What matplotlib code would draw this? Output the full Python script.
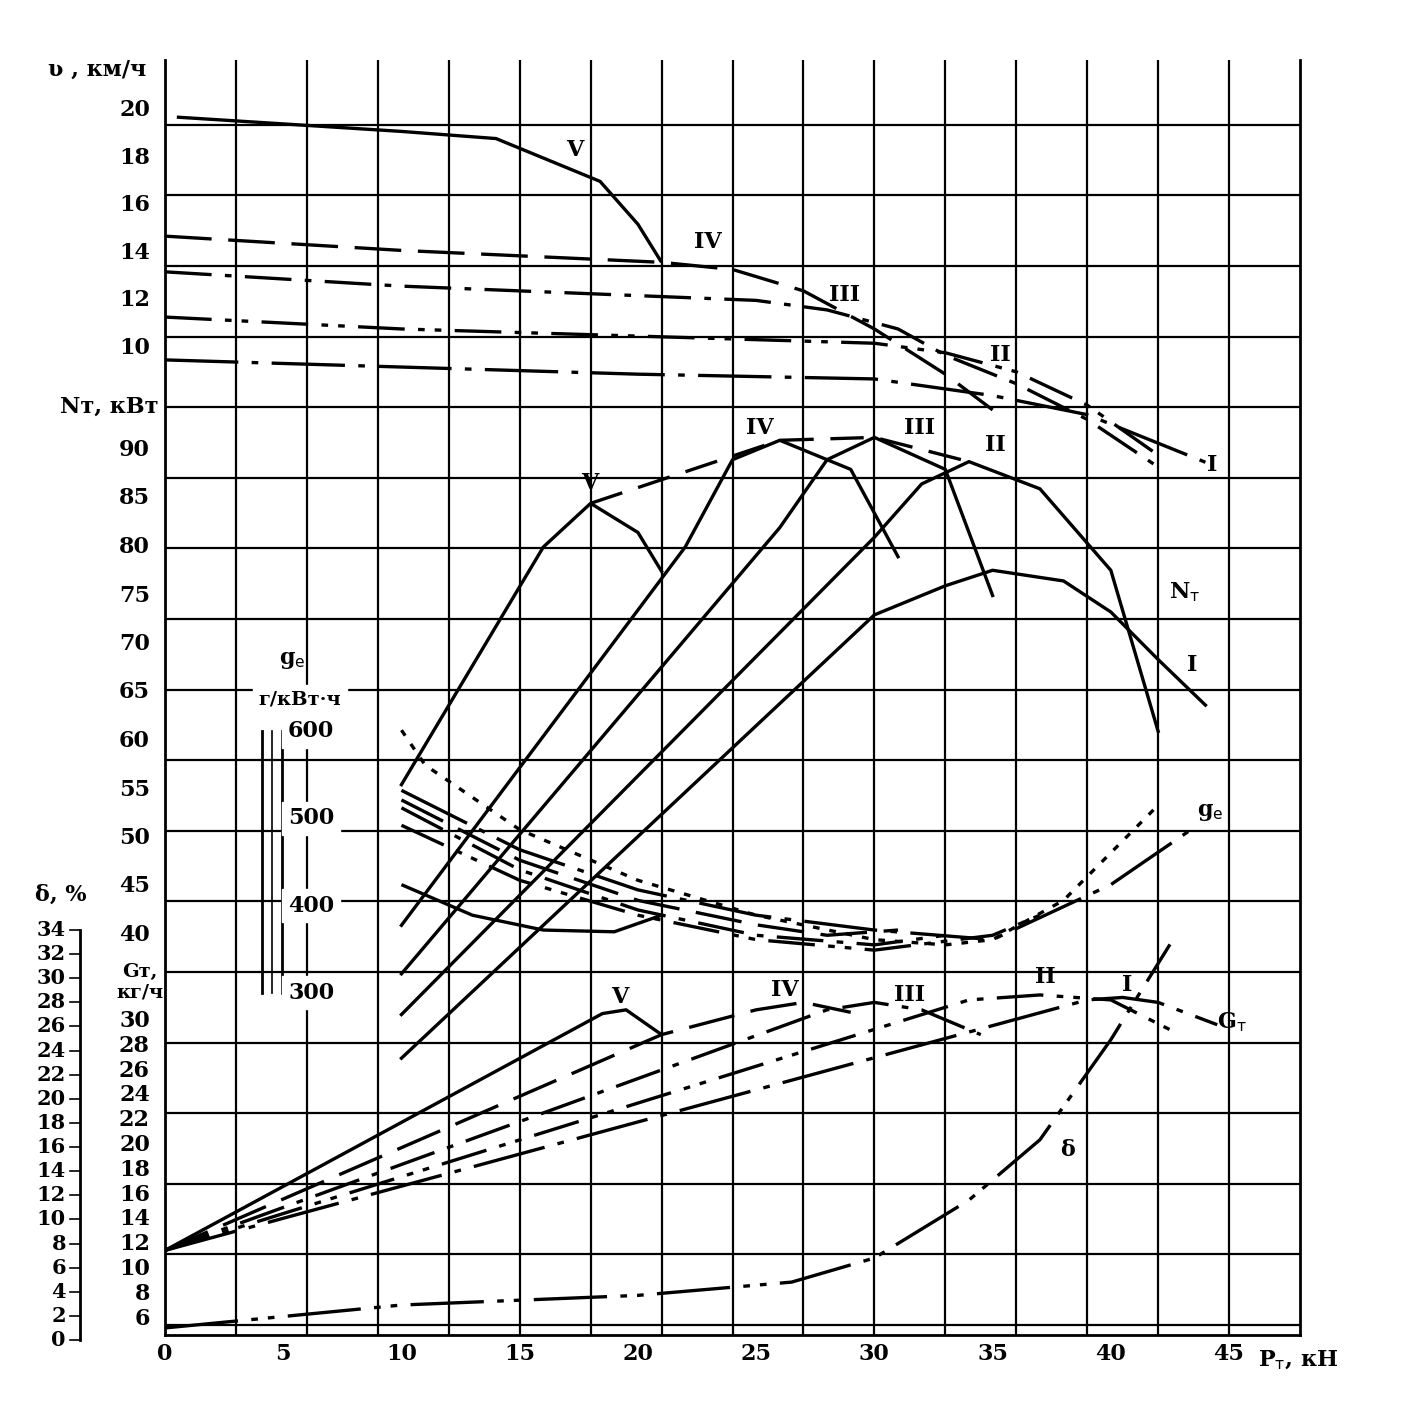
import matplotlib
matplotlib.use("Agg")
import matplotlib.pyplot as plt
import numpy as np

# ---- data (P in kN) ----
gears = ["V", "IV", "III", "II", "I"]
v_P = {"V": [0.5, 10, 14, 18.4, 20, 21], "IV": [0, 10, 21, 24, 27, 30, 33, 35],
       "III": [0, 10, 25, 28, 31, 33, 36, 39, 42], "II": [0, 10, 20, 30, 33, 36, 39, 42],
       "I": [0, 10, 20, 30, 35, 39, 44]}
v_val = {"V": [19.7, 19.1, 18.8, 17.0, 15.2, 13.6], "IV": [14.7, 14.1, 13.6, 13.3, 12.4, 10.8, 8.9, 7.4],
         "III": [13.2, 12.6, 12.0, 11.6, 10.8, 9.7, 8.5, 7.0, 5.0], "II": [11.3, 10.8, 10.5, 10.2, 9.8, 9.0, 7.6, 5.5],
         "I": [9.5, 9.2, 8.9, 8.7, 8.0, 7.2, 5.2]}
N_P = {"V": [10, 16, 18, 20, 21], "IV": [10, 22, 24, 26, 29, 31], "III": [10, 26, 28, 30, 33, 35],
       "II": [10, 30, 32, 34, 37, 40, 42], "I": [10, 30, 33, 35, 38, 40, 42, 44]}
N_val = {"V": [55.5, 80, 84.5, 81.5, 77.5], "IV": [41, 80, 89, 91, 88, 79], "III": [36, 82, 89, 91.3, 88, 75],
         "II": [31.8, 81, 86.5, 88.8, 86, 77.6, 61], "I": [27.3, 73, 76, 77.6, 76.5, 73.3, 68.4, 63.7]}
Nenv_P = [18, 26, 30, 34]
Nenv_val = [84.5, 91, 91.3, 88.8]
ge_P = {"V": [10, 13, 16, 19, 21], "IV": [10, 15, 20, 25, 28, 31], "III": [10, 15, 20, 25, 30, 33],
        "II": [10, 15, 20, 25, 30, 35, 37], "I": [10, 15, 20, 25, 30, 35, 40, 43.5]}
ge_val = {"V": [424, 389, 372, 370, 389], "IV": [521, 452, 406, 378, 366, 372], "III": [512, 441, 395, 366, 355, 366],
          "II": [492, 429, 389, 361, 349, 366, 389], "I": [532, 464, 418, 389, 372, 361, 424, 489]}
ge_env_P = [10, 11, 15, 20, 25, 30, 33, 35, 38, 42]
ge_env_val = [601, 561, 487, 429, 389, 361, 355, 361, 406, 515]
G_P = {"V": [0, 18.5, 19.5, 21], "IV": [0, 21, 25, 27, 29], "III": [0, 28, 30, 32, 34.5],
       "II": [0, 34, 37, 40, 42.5], "I": [0, 39, 40.5, 42, 44.5]}
G_val = {"V": [11.5, 30.6, 30.9, 28.9], "IV": [11.5, 28.9, 30.9, 31.5, 30.7], "III": [11.5, 30.9, 31.5, 30.9, 28.9],
         "II": [11.5, 31.7, 32.1, 31.7, 29.3], "I": [11.5, 31.7, 31.9, 31.5, 29.7]}
d_P = [0, 10, 20, 26.5, 30, 34, 37, 40, 42.5]
d_val = [1.0, 2.9, 3.7, 4.8, 6.8, 11.6, 16.6, 24.9, 32.8]

v_ticks = [10, 12, 14, 16, 18, 20]
N_ticks = [40, 45, 50, 55, 60, 65, 70, 75, 80, 85, 90]
ge_ticks = [300, 400, 500, 600]
G_ticks = list(range(6, 31, 2))
d_ticks = list(range(0, 35, 2))
x_ticks = [0, 5, 10, 15, 20, 25, 30, 35, 40, 45]

# ---- scale mappings (vertical, in figure pixels) ----
yv = lambda v: 348 - (np.asarray(v) - 10) * 23.8
yN = lambda n: 450 + (90 - np.asarray(n)) * 9.7
yg = lambda g: 731 + (600 - np.asarray(g)) * 0.873
yG = lambda g: 1021 + (30 - np.asarray(g)) * 12.4
yd = lambda d: 1340 - np.asarray(d) * 12.06

W = 1414
fig = plt.figure(figsize=(14.14, 14.14), dpi=100)
fig.patch.set_facecolor("white")
L, R, T, B = 165, 1300, 60, 1335
ax = fig.add_axes([L / W, 1 - B / W, (R - L) / W, (B - T) / W])
ax.set_xlim(0, 48)
ax.set_ylim(B, T)
for s in ax.spines.values():
    s.set_linewidth(2)
ax.spines["top"].set_visible(False)
ax.set_yticks([])
ax.set_xticks(x_ticks)
ax.set_xticklabels([str(t) for t in x_ticks], fontsize=16, fontweight="bold", family="DejaVu Serif")
ax.tick_params(axis="x", length=0, pad=6)
for gx in np.arange(3, 48, 3):
    ax.axvline(gx, color="black", lw=1.6, zorder=1)
for gy in np.arange(1325, 50, -70.6):
    ax.axhline(gy, color="black", lw=1.6, zorder=1)

styles = {"V": (0, (10, 0)), "IV": (0, (14, 5)), "III": (0, (14, 4, 2, 4)),
          "II": (0, (14, 4, 2, 3, 2, 4)), "I": (0, (22, 4, 2, 4))}
lw = 2.4
for g in gears:
    ax.plot(v_P[g], yv(v_val[g]), color="black", lw=lw, ls=styles[g], zorder=3)
    ax.plot(N_P[g], yN(N_val[g]), color="black", lw=lw, ls="-", zorder=3)
    ax.plot(ge_P[g], yg(ge_val[g]), color="black", lw=lw, ls=styles[g], zorder=3)
    ax.plot(G_P[g], yG(G_val[g]), color="black", lw=lw, ls=styles[g], zorder=3)
ax.plot(Nenv_P, yN(Nenv_val), color="black", lw=lw, ls=(0, (10, 5)), zorder=3)
ax.plot(ge_env_P, yg(ge_env_val), color="black", lw=lw, ls=(0, (2, 3)), zorder=3)
ax.plot(d_P, yd(d_val), color="black", lw=lw, ls=(0, (22, 4, 2, 3, 2, 4)), zorder=3)

def kx(px):
    return (px - L) / (R - L) * 48

txt = dict(fontsize=16, fontweight="bold", family="DejaVu Serif", color="black")
def ft(px, py, s, **kw):
    d = dict(txt); d.update(kw)
    fig.text(px / W, 1 - py / W, s, **d)

# curve labels
for px, py, s in [(575, 150, "V"), (708, 242, "IV"), (845, 295, "III"), (1000, 355, "II"), (1212, 465, "I"),
                  (590, 483, "V"), (760, 428, "IV"), (920, 428, "III"), (995, 445, "II"), (1185, 592, "N$_{\\rm т}$"),
                  (1192, 665, "I"), (1210, 812, "g$_{\\rm e}$"), (620, 997, "V"), (785, 990, "IV"),
                  (910, 995, "III"), (1045, 977, "II"), (1127, 985, "I"), (1232, 1022, "G$_{\\rm т}$"), (1068, 1150, "δ")]:
    ft(px, py, s, ha="center", va="center", zorder=5)

# v scale
for t in v_ticks:
    ft(150, float(yv(t)), str(t), ha="right", va="center")
ft(48, 70, "ʋ , км/ч", ha="left", va="center")
# N scale
for t in N_ticks:
    ft(150, float(yN(t)), str(t), ha="right", va="center")
ft(60, 407, "Nт, кВт", ha="left", va="center")
# G scale
for t in G_ticks:
    ft(150, float(yG(t)), str(t), ha="right", va="center")
ft(140, 982, "Gт,\nкг/ч", ha="center", va="center", linespacing=1.2, fontsize=14)
# delta scale
for t in d_ticks:
    ft(66, float(yd(t)), str(t), ha="right", va="center", fontsize=15)
ft(35, 895, "δ, %", ha="left", va="center")
fig.add_artist(plt.Line2D([80 / W, 80 / W], [1 - yd(34) / W, 1 - yd(0) / W], color="black", lw=2))
for t in d_ticks:
    fig.add_artist(plt.Line2D([70 / W, 80 / W], [1 - yd(t) / W] * 2, color="black", lw=1.2))
# ge scale (inside plot)
fig.add_artist(plt.Line2D([262 / W, 262 / W], [1 - yg(600) / W, 1 - yg(300) / W], color="black", lw=2))
fig.add_artist(plt.Line2D([272 / W, 272 / W], [1 - yg(600) / W, 1 - yg(300) / W], color="black", lw=1.2))
fig.add_artist(plt.Line2D([282 / W, 282 / W], [1 - yg(600) / W, 1 - yg(300) / W], color="black", lw=2))
for t in ge_ticks:
    ft(288, float(yg(t)), str(t), ha="left", va="center", backgroundcolor="white")
ft(292, 660, "g$_{\\rm e}$", ha="center", va="center")
ft(300, 700, "г/кВт·ч", ha="center", va="center", fontsize=14, backgroundcolor="white")
ft(1258, 1360, "P$_{\\rm т}$, кН", ha="left", va="center")

fig.savefig("out.png", dpi=100, facecolor="white")
